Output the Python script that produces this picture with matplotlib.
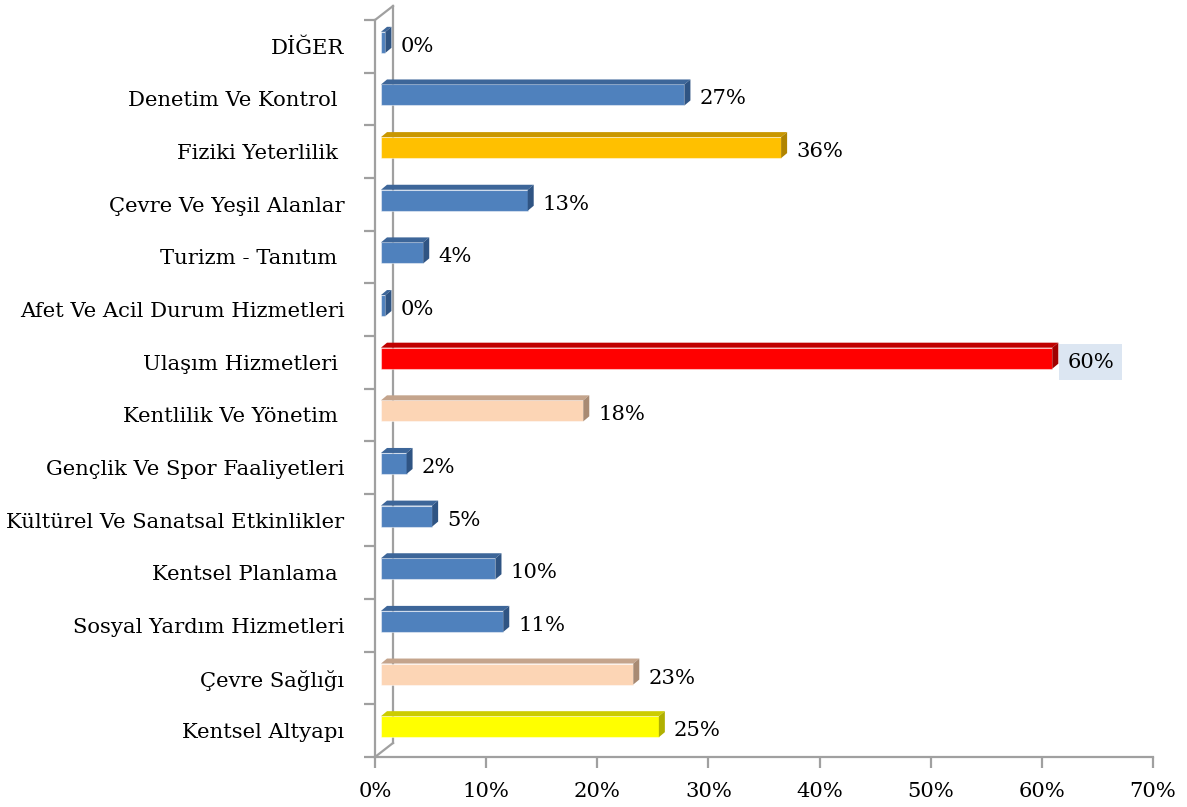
import matplotlib
matplotlib.use("Agg")
import matplotlib.pyplot as plt
from matplotlib.patches import Polygon

# kategoriler (alttan üste)
kategoriler = ["Kentsel Altyapı", "Çevre Sağlığı", "Sosyal Yardım Hizmetleri",
               "Kentsel Planlama ", "Kültürel Ve Sanatsal Etkinlikler",
               "Gençlik Ve Spor Faaliyetleri", "Kentlilik Ve Yönetim ",
               "Ulaşım Hizmetleri ", "Afet Ve Acil Durum Hizmetleri",
               "Turizm - Tanıtım ", "Çevre Ve Yeşil Alanlar",
               "Fiziki Yeterlilik ", "Denetim Ve Kontrol ", "DİĞER"]
oranlar = [25.0, 22.7, 11.0, 10.3, 4.6, 2.3, 18.2, 60.4, 0.4, 3.8, 13.2, 36.0, 27.3, 0.4]
renk_grubu = ["sari", "ten", "mavi", "mavi", "mavi", "mavi", "ten", "kirmizi",
              "mavi", "mavi", "mavi", "altin", "mavi", "mavi"]
x_ticks = [0, 10, 20, 30, 40, 50, 60, 70]

# on yuz, ust yuz, yan yuz
renkler = {
    "mavi": ("#4F81BD", "#3D6699", "#2F5483"),
    "altin": ("#FFC000", "#C99700", "#B08400"),
    "kirmizi": ("#FF0000", "#C00000", "#A00000"),
    "ten": ("#FCD5B5", "#C4A48C", "#A88A73"),
    "sari": ("#FFFF00", "#CCCC00", "#B0B000"),
}

W, H = 1187, 807
plt.rcParams['font.family'] = ['DejaVu Serif']
plt.rcParams['font.size'] = 15.2

fig = plt.figure(figsize=(W / 100, H / 100), dpi=100)
ax_w, ax_h = 778, 737
ax = fig.add_axes([375 / W, 50 / H, ax_w / W, ax_h / H])
ax.set_xlim(0, 70)
ax.set_ylim(-0.5, 13.5)

# piksel -> veri birimi
ux = 70 / ax_w
uy = 14 / ax_h

gri = "#A0A0A0"

# arka duvar
wx, wy = 18 * ux, 14 * uy
ax.plot([wx, wx], [-0.5 + wy, 13.5 + wy], color=gri, lw=1.6, clip_on=False, zorder=1)
ax.plot([0, wx], [13.5, 13.5 + wy], color=gri, lw=1.6, clip_on=False, zorder=1)
ax.plot([0, wx], [-0.5, -0.5 + wy], color=gri, lw=1.6, clip_on=False, zorder=1)

x0 = 6 * ux
h = 21 * uy
dx, dy = 6 * ux, 5 * uy
for i, (v, g) in enumerate(zip(oranlar, renk_grubu)):
    on, ust, yan = renkler[g]
    yc = i + 4 * uy
    ax.barh(yc, v, left=x0, height=h, color=on, edgecolor=(1, 1, 1, 0.45),
            linewidth=0.8, zorder=3)
    yt, yb = yc + h / 2, yc - h / 2
    xr = x0 + v
    ax.add_patch(Polygon([(x0, yt), (xr, yt), (xr + dx, yt + dy), (x0 + dx, yt + dy)],
                         closed=True, facecolor=ust, edgecolor="none", zorder=3))
    ax.add_patch(Polygon([(xr, yb), (xr, yt), (xr + dx, yt + dy), (xr + dx, yb + dy)],
                         closed=True, facecolor=yan, edgecolor="none", zorder=3))
    kw = {}
    if g == "kirmizi":
        kw["bbox"] = dict(boxstyle="square,pad=0.4", facecolor="#DCE6F2", edgecolor="none")
    ax.text(xr + dx + 9 * ux, i, f"{v:.0f}%", va="center", ha="left", zorder=4, **kw)

ax.set_yticks(range(len(kategoriler)))
ax.set_yticklabels(kategoriler)
ax.set_yticks([k - 0.5 for k in range(len(kategoriler) + 1)], minor=True)
ax.tick_params(axis="y", which="major", length=0, pad=22)
ax.tick_params(axis="y", which="minor", length=8, width=1.6, color=gri)

ax.set_xticks(x_ticks)
ax.set_xticklabels([f"{t}%" for t in x_ticks])
ax.tick_params(axis="x", length=8, width=1.6, color=gri, pad=10)

for s in ["top", "right"]:
    ax.spines[s].set_visible(False)
for s in ["left", "bottom"]:
    ax.spines[s].set_color(gri)
    ax.spines[s].set_linewidth(1.6)

fig.savefig("out.png", dpi=100)
